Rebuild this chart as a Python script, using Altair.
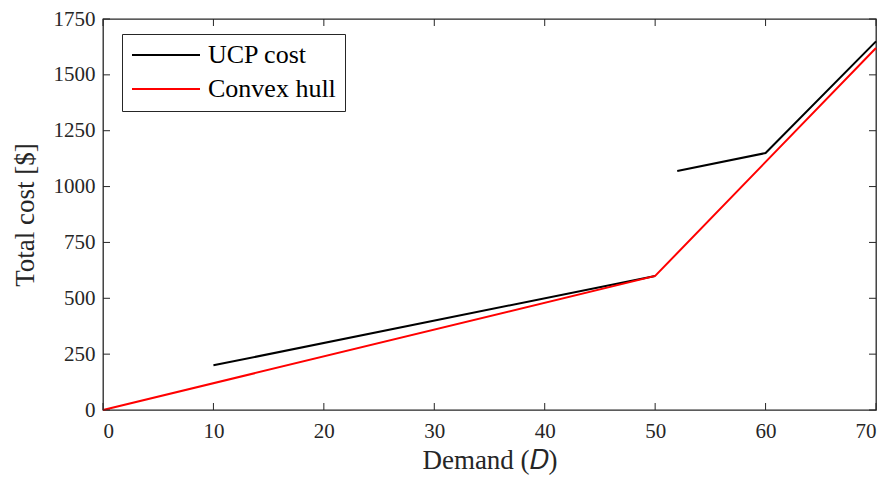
import altair as alt
import pandas as pd

# Unit-commitment cost curve (two pieces) and its convex hull
ucp_a_demand = [10, 50]
ucp_a_cost = [200, 600]
ucp_b_demand = [52, 60, 70]
ucp_b_cost = [1070, 1150, 1650]
hull_demand = [0, 50, 70]
hull_cost = [0, 600, 1620]

x_ticks = [0, 10, 20, 30, 40, 50, 60, 70]
y_ticks = [0, 250, 500, 750, 1000, 1250, 1500, 1750]

series_names = ["UCP cost", "Convex hull"]
series_colors = ["black", "red"]

W, H = 773, 391
FONT = "Liberation Serif"
AX = "#262626"

ucp = pd.DataFrame({
    "D": ucp_a_demand + ucp_b_demand,
    "cost": ucp_a_cost + ucp_b_cost,
    "piece": ["a"] * len(ucp_a_demand) + ["b"] * len(ucp_b_demand),
    "series": "UCP cost",
})
hull = pd.DataFrame({"D": hull_demand, "cost": hull_cost, "piece": "h", "series": "Convex hull"})

xs = alt.Scale(domain=[0, 70], nice=False, zero=False)
ys = alt.Scale(domain=[0, 1750], nice=False, zero=False)

color = alt.Color(
    "series:N",
    scale=alt.Scale(domain=series_names, range=series_colors),
    sort=series_names,
    legend=alt.Legend(
        title=None, orient="none", legendX=19, legendY=15,
        symbolType="stroke", symbolSize=4624, symbolStrokeWidth=2,
        clipHeight=24, rowPadding=8,
        labelFont=FONT, labelFontSize=26, labelColor="black",
        strokeColor=AX, fillColor="white", padding=9,
        labelOffset=7,
    ),
)

x_enc = alt.X(
    "D:Q", scale=xs,
    axis=alt.Axis(values=x_ticks, format="d", title="Demand (𝐷)", grid=False, ticks=False, domain=False,
                  labelFont=FONT, labelFontSize=21, labelColor=AX, labelPadding=10,
                  titleFont=FONT, titleFontSize=27, titleFontWeight="normal", titleColor=AX,
                  titlePadding=6),
)
y_enc = alt.Y(
    "cost:Q", scale=ys,
    axis=alt.Axis(values=y_ticks, format="d", title="Total cost [$]", grid=False, ticks=False, domain=False,
                  labelFont=FONT, labelFontSize=21, labelColor=AX, labelPadding=8,
                  titleFont=FONT, titleFontSize=27, titleFontWeight="normal", titleColor=AX,
                  titlePadding=14),
)

ucp_line = alt.Chart(ucp).mark_line(strokeWidth=2).encode(
    x=x_enc, y=y_enc, color=color, detail="piece:N"
)
hull_line = alt.Chart(hull).mark_line(strokeWidth=2).encode(
    x=alt.X("D:Q", scale=xs), y=alt.Y("cost:Q", scale=ys), color=color, detail="piece:N"
)

# Inward tick marks on all four sides of the box
xt = pd.DataFrame({"t": x_ticks})
yt = pd.DataFrame({"t": y_ticks})
tick_len = 7
tx = alt.X("t:Q", scale=xs)
ty = alt.Y("t:Q", scale=ys)
tick_style = dict(color=AX, strokeWidth=1)
bottom = alt.Chart(xt).mark_rule(**tick_style).encode(x=tx, y=alt.value(H), y2=alt.value(H - tick_len))
top = alt.Chart(xt).mark_rule(**tick_style).encode(x=tx, y=alt.value(0), y2=alt.value(tick_len))
left = alt.Chart(yt).mark_rule(**tick_style).encode(y=ty, x=alt.value(0), x2=alt.value(tick_len))
right = alt.Chart(yt).mark_rule(**tick_style).encode(y=ty, x=alt.value(W), x2=alt.value(W - tick_len))

chart = alt.layer(ucp_line, hull_line, bottom, top, left, right).properties(
    width=W, height=H,
    autosize=alt.AutoSizeParams(type="none"),
    padding={"left": 103, "top": 19, "right": 12, "bottom": 69},
    background="white",
).configure_view(
    stroke=AX, strokeWidth=1.3
).configure_axis(
    labelFont=FONT, titleFont=FONT
).configure_legend(
    labelFont=FONT
)

chart.save("out.html", embed_options={"renderer": "svg", "actions": False})
